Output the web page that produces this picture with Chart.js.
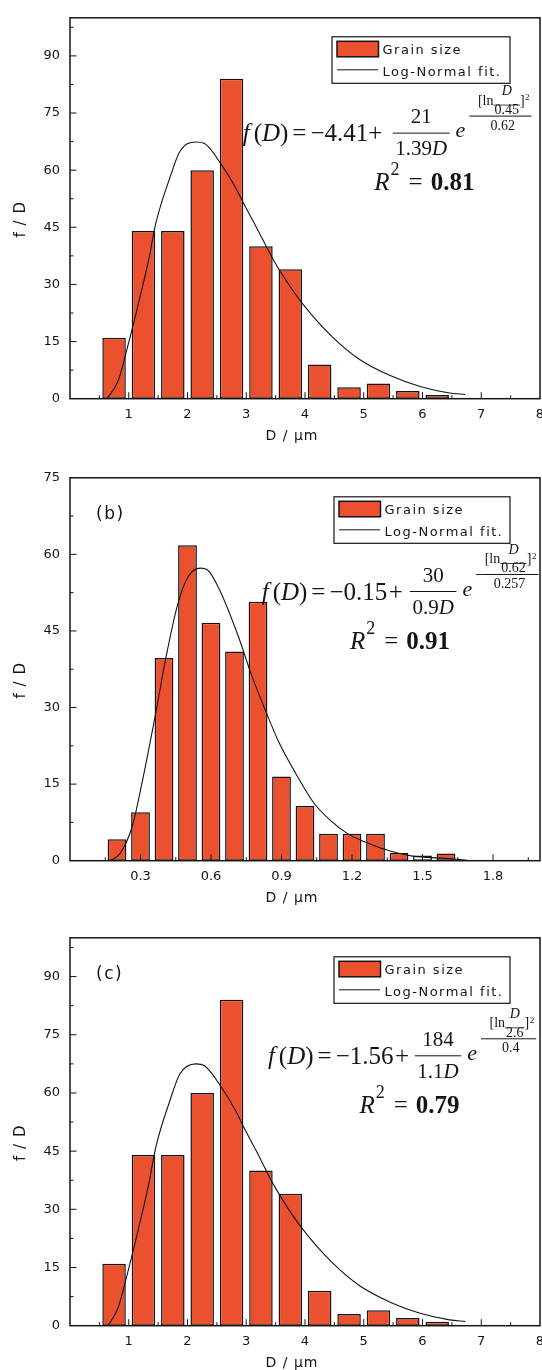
<!DOCTYPE html>
<html lang="en">
<head>
<meta charset="utf-8">
<title>Grain size distributions with log-normal fits</title>
<script src="https://cdn.jsdelivr.net/npm/chart.js@4.4.1/dist/chart.umd.min.js"></script>
<style>
  html, body { margin: 0; padding: 0; background: #fff; }
  body { position: relative; width: 542px; height: 1370px; overflow: hidden; }
  .panel { position: absolute; left: 0; }
</style>
</head>
<body>
<canvas id="panel-a" class="panel" width="562" height="460" style="top:0"></canvas>
<canvas id="panel-b" class="panel" width="562" height="460" style="top:460px"></canvas>
<canvas id="panel-c" class="panel" width="562" height="450" style="top:920px"></canvas>
<script>
// (a) histogram, 0.5 um bins
const binsA = [0.75, 1.25, 1.75, 2.25, 2.75, 3.25, 3.75, 4.25, 4.75, 5.25, 5.75, 6.25];
const countsA = [16, 44, 44, 60, 84, 40, 34, 9, 3, 4, 2, 1];
const fitDA = [0.63, 0.82, 0.99, 1.17, 1.34, 1.46, 1.70, 1.87, 2.14, 2.29, 2.58, 2.82, 2.96, 3.17, 3.46, 3.70, 3.96, 4.46, 4.93, 5.46, 5.96, 6.46, 6.73];
const fitFA = [0, 4.7, 14.2, 25.3, 36.5, 46.0, 58.0, 64.9, 67.4, 67.0, 61.4, 55.4, 51.1, 45.1, 36.5, 30.5, 24.9, 16.3, 10.3, 6.0, 3.2, 1.5, 1.1];

// (b) histogram, 0.1 um bins (the 1.5 bin is left unfilled)
const binsB = [0.2, 0.3, 0.4, 0.5, 0.6, 0.7, 0.8, 0.9, 1.0, 1.1, 1.2, 1.3, 1.4, 1.5, 1.6];
const countsB = [4.2, 9.5, 39.7, 61.8, 46.6, 41.0, 50.7, 16.5, 10.7, 5.3, 5.3, 5.3, 1.5, 1.0, 1.4];
const openBinsB = [1.5];
const fitDB = [0.17, 0.213, 0.264, 0.308, 0.366, 0.41, 0.46, 0.504, 0.555, 0.584, 0.642, 0.715, 0.773, 0.839, 0.89, 0.963, 1.036, 1.108, 1.181, 1.254, 1.341, 1.458, 1.589, 1.691];
const fitFB = [0, 1.4, 6.6, 15.6, 29.2, 40.2, 50.5, 55.7, 57.3, 57.0, 52.5, 44.1, 36.3, 28.6, 23.1, 16.9, 11.4, 7.9, 5.3, 3.7, 2.2, 0.9, 0.5, 0.1];

// (c) histogram, 0.5 um bins
const binsC = [0.75, 1.25, 1.75, 2.25, 2.75, 3.25, 3.75, 4.25, 4.75, 5.25, 5.75, 6.25];
const countsC = [16, 44, 44, 60, 84, 40, 34, 9, 3, 4, 2, 1];
const fitDC = [0.65, 0.82, 0.99, 1.17, 1.34, 1.46, 1.70, 1.87, 2.14, 2.29, 2.58, 2.82, 2.96, 3.17, 3.46, 3.70, 3.96, 4.46, 4.93, 5.46, 5.96, 6.46, 6.73];
const fitFC = [0, 4.7, 14.2, 25.3, 36.5, 46.0, 58.0, 64.9, 67.5, 67.0, 61.4, 55.4, 51.1, 45.1, 36.5, 30.5, 24.9, 16.3, 10.3, 6.0, 3.2, 1.5, 1.1];

// axis ticks
const xTicksA = [1, 2, 3, 4, 5, 6, 7, 8];
const yTicksA = [0, 15, 30, 45, 60, 75, 90];
const xTicksB = [0.3, 0.6, 0.9, 1.2, 1.5, 1.8];
const yTicksB = [0, 15, 30, 45, 60, 75];

// fit parameters as printed
const fitOffset = ['\u22124.41', '\u22120.15', '\u22121.56'];
const fitAmp = ['21', '30', '184'];
const fitWidth = ['1.39', '0.9', '1.1'];
const fitCentre = ['0.45', '0.62', '2.6'];
const fitSpread = ['0.62', '0.257', '0.4'];
const fitR2 = ['0.81', '0.91', '0.79'];
const panelTags = ['', '(b)', '(c)'];

const ORANGE = '#EC512F';
const INK = '#141414';
const SANS = '"DejaVu Sans", Arial, sans-serif';
const SERIF = '"Liberation Serif", "Times New Roman", serif';

function word(ctx, str, x, y, font, align) {
    ctx.font = font;
    ctx.textAlign = align || 'left';
    ctx.fillText(str, x, y);
    return x + ctx.measureText(str).width;
}

function measure(ctx, str, font) {
    ctx.font = font;
    return ctx.measureText(str).width;
}

function hline(ctx, x1, x2, y, w) {
    ctx.lineWidth = w;
    ctx.beginPath();
    ctx.moveTo(x1, y);
    ctx.lineTo(x2, y);
    ctx.stroke();
}

// major ticks between the axis ends, minor ticks halfway
function tickMarks(ticks, max) {
    const step = ticks[1] - ticks[0];
    const major = ticks.filter(v => v > 0 && v < max - 1e-9);
    const minor = [];
    for (let v = step / 2; v < max - 1e-9; v += step) minor.push(v);
    return { major, minor };
}

/**
 * Box frame plus inward tick marks, drawn over the bars
 */
function makeFrame(p) {
    return {
        id: 'frame',
        afterDatasetsDraw(chart) {
            const { ctx, chartArea: a, scales: { x, y } } = chart;
            const xm = tickMarks(p.xTicks, p.xMax);
            const ym = tickMarks(p.yTicks, p.yMax);
            ctx.save();
            ctx.strokeStyle = INK;
            ctx.lineWidth = 1;
            ctx.beginPath();
            xm.major.forEach(v => { const px = x.getPixelForValue(v); ctx.moveTo(px, a.bottom); ctx.lineTo(px, a.bottom - 6.5); });
            xm.minor.forEach(v => { const px = x.getPixelForValue(v); ctx.moveTo(px, a.bottom); ctx.lineTo(px, a.bottom - 3.5); });
            ym.major.forEach(v => { const py = y.getPixelForValue(v); ctx.moveTo(a.left, py); ctx.lineTo(a.left + 6.5, py); });
            ym.minor.forEach(v => { const py = y.getPixelForValue(v); ctx.moveTo(a.left, py); ctx.lineTo(a.left + 3.5, py); });
            ctx.stroke();
            ctx.lineWidth = 1.5;
            ctx.strokeRect(a.left, a.top, a.right - a.left, a.bottom - a.top);
            ctx.restore();
        }
    };
}

function drawLegend(ctx, chart, a, p) {
    const left = p.legendX, right = 510;
    const top = a.top + 19, bottom = a.top + 65.5;
    const bars = chart.data.datasets[1], fit = chart.data.datasets[0];
    ctx.strokeStyle = INK;
    ctx.lineWidth = 1.2;
    ctx.strokeRect(left, top, right - left, bottom - top);
    ctx.fillStyle = ORANGE;
    ctx.fillRect(left + 5, a.top + 23.5, 41.5, 15.5);
    ctx.lineWidth = 1.5;
    ctx.strokeRect(left + 5, a.top + 23.5, 41.5, 15.5);
    hline(ctx, left + 5, left + 46, a.top + 52, 1);
    ctx.fillStyle = INK;
    ctx.font = `13px ${SANS}`;
    ctx.textAlign = 'left';
    ctx.letterSpacing = '1.5px';
    ctx.fillText(bars.label, left + 50.5, a.top + 36);
    ctx.fillText(fit.label, left + 50.5, a.top + 58);
    ctx.letterSpacing = '0px';
}

// f(D) = y0 + A/(wD) exp(-[ln(D/xc)]^2 / s)   and   R^2 line
function drawFit(ctx, a, p) {
    const i = p.index;
    const y0 = a.top + p.baseY;
    const big = `25px ${SERIF}`, bigIt = `italic 25px ${SERIF}`;
    ctx.fillStyle = INK;
    ctx.strokeStyle = INK;

    let x = word(ctx, 'f', p.leadX, y0, bigIt) + 4;
    x = word(ctx, '(', x, y0, big);
    x = word(ctx, 'D', x, y0, bigIt);
    x = word(ctx, ')', x, y0, big) + 4;
    x = word(ctx, '=', x, y0, big) + 4;
    x = word(ctx, fitOffset[i], x, y0, big) + p.plusGap;
    word(ctx, '+', x, y0, big);

    const fr = `21px ${SERIF}`, frIt = `italic 21px ${SERIF}`;
    const numW = measure(ctx, fitAmp[i], fr);
    const denW = measure(ctx, fitWidth[i], fr) + measure(ctx, 'D', frIt);
    const fw = Math.max(numW, denW) + 5;
    hline(ctx, p.fracX, p.fracX + fw, y0 - 8, 1);
    word(ctx, fitAmp[i], p.fracX + (fw - numW) / 2, y0 - 18, fr);
    const dx = word(ctx, fitWidth[i], p.fracX + (fw - denW) / 2, y0 + 14, fr);
    word(ctx, 'D', dx, y0 + 14, frIt);

    const ex = word(ctx, 'e', p.fracX + fw + 6, y0 - 4, `italic 22px ${SERIF}`);
    const barY = y0 - 25;
    hline(ctx, ex + 4, ex + 8.5, barY, 1);
    const sm = `14px ${SERIF}`, smIt = `italic 14px ${SERIF}`;
    const bx = ex + 8.5;
    const nx = word(ctx, '[ln', bx + 4, barY - 11.5, sm);
    const cW = measure(ctx, fitCentre[i], sm);
    const dW = measure(ctx, 'D', smIt);
    const iw = Math.max(cW, dW) + 2;
    hline(ctx, nx, nx + iw, barY - 11, 0.8);
    word(ctx, 'D', nx + (iw - dW) / 2, barY - 21, smIt);
    word(ctx, fitCentre[i], nx + (iw - cW) / 2, barY - 2.3, sm);
    let cx = word(ctx, ']', nx + iw, barY - 11.5, sm);
    cx = word(ctx, '2', cx + 0.5, barY - 16, `9px ${SERIF}`);
    hline(ctx, bx, cx + 2, barY, 1);
    word(ctx, fitSpread[i], (bx + cx + 2) / 2, barY + 13.5, sm, 'center');

    const ry = y0 + 49;
    let rx = word(ctx, 'R', p.rX, ry, bigIt);
    rx = word(ctx, '2', rx + 1, ry - 15, `18px ${SERIF}`) + 9;
    rx = word(ctx, '=', rx, ry, big) + 8;
    word(ctx, fitR2[i], rx, ry, `bold 25px ${SERIF}`);
}

function makeNotes(p) {
    return {
        id: 'notes',
        afterDraw(chart) {
            const { ctx, chartArea: a } = chart;
            ctx.save();
            ctx.textBaseline = 'alphabetic';
            drawLegend(ctx, chart, a, p);
            drawFit(ctx, a, p);

            ctx.fillStyle = INK;
            const tag = panelTags[p.index];
            if (tag) {
                ctx.font = `17px ${SANS}`;
                ctx.letterSpacing = '1.5px';
                ctx.textAlign = 'left';
                ctx.fillText(tag, 96, a.top + 41.5);
                ctx.letterSpacing = '0px';
            }

            // axis titles
            ctx.font = `14px ${SANS}`;
            ctx.letterSpacing = '1px';
            ctx.textAlign = 'center';
            ctx.fillText('D / \u03bcm', 292, a.bottom + 41);
            ctx.translate(21.5, (a.top + a.bottom) / 2 + 11);
            ctx.rotate(-Math.PI / 2);
            ctx.font = `15px ${SANS}`;
            ctx.textBaseline = 'middle';
            ctx.fillText('f / D', 0, 0);
            ctx.restore();
        }
    };
}

function buildPanel(canvasId, p) {
    const tickFont = { family: SANS, size: 13 };
    return new Chart(document.getElementById(canvasId), {
        type: 'bar',
        data: {
            datasets: [
                {
                    type: 'line',
                    label: 'Log-Normal fit.',
                    data: p.fitD.map((d, k) => ({ x: d, y: p.fitF[k] })),
                    borderColor: INK,
                    borderWidth: 1.1,
                    pointRadius: 0,
                    fill: false,
                    cubicInterpolationMode: 'monotone',
                    order: 0
                },
                {
                    type: 'bar',
                    label: 'Grain size',
                    data: p.bins.map((c, k) => ({ x: c, y: p.counts[k] })),
                    backgroundColor: p.bins.map(c => (p.openBins.includes(c) ? '#ffffff' : ORANGE)),
                    borderColor: INK,
                    borderWidth: 1.5,
                    borderSkipped: false,
                    categoryPercentage: 1,
                    barPercentage: 0.8,
                    order: 1
                }
            ]
        },
        options: {
            responsive: false,
            animation: false,
            layout: { padding: { top: p.plotTop, right: 22, left: 0, bottom: 0 } },
            plugins: {
                legend: { display: false },
                tooltip: { enabled: false }
            },
            scales: {
                x: {
                    type: 'linear',
                    offset: false,
                    min: 0,
                    max: p.xMax,
                    grid: { display: false, drawTicks: false, offset: false },
                    border: { display: false },
                    ticks: {
                        font: tickFont,
                        color: INK,
                        padding: 8,
                        maxRotation: 0,
                        autoSkip: false,
                        callback: v => v.toFixed(p.xDigits)
                    },
                    afterBuildTicks: s => { s.ticks = p.xTicks.map(v => ({ value: v })); },
                    afterFit: s => { s.height = p.xAxisH; }
                },
                y: {
                    type: 'linear',
                    min: 0,
                    max: p.yMax,
                    grid: { display: false, drawTicks: false },
                    border: { display: false },
                    ticks: { font: tickFont, color: INK, padding: 10, autoSkip: false },
                    afterBuildTicks: s => { s.ticks = p.yTicks.map(v => ({ value: v })); },
                    afterFit: s => { s.width = 70; }
                }
            }
        },
        plugins: [makeFrame(p), makeNotes(p)]
    });
}

buildPanel('panel-a', {
    index: 0, bins: binsA, counts: countsA, openBins: [], fitD: fitDA, fitF: fitFA,
    xTicks: xTicksA, yTicks: yTicksA, xMax: 8, yMax: 100, xDigits: 0,
    plotTop: 10.7, xAxisH: 61.3,
    legendX: 332, baseY: 123.3, leadX: 242.7, plusGap: 0, fracX: 392.7, rX: 374.3
});

buildPanel('panel-b', {
    index: 1, bins: binsB, counts: countsB, openBins: openBinsB, fitD: fitDB, fitF: fitFB,
    xTicks: xTicksB, yTicks: yTicksB, xMax: 2, yMax: 75, xDigits: 1,
    plotTop: 13.3, xAxisH: 59.3,
    legendX: 334, baseY: 121.7, leadX: 261.7, plusGap: 1.5, fracX: 410, rX: 350
});

buildPanel('panel-c', {
    index: 2, bins: binsC, counts: countsC, openBins: [], fitD: fitDC, fitF: fitFC,
    xTicks: xTicksA, yTicks: yTicksA, xMax: 8, yMax: 100, xDigits: 0,
    plotTop: 17.3, xAxisH: 44.3,
    legendX: 334, baseY: 126, leadX: 267.9, plusGap: 1.5, fracX: 414.8, rX: 359.5
});
</script>
</body>
</html>
